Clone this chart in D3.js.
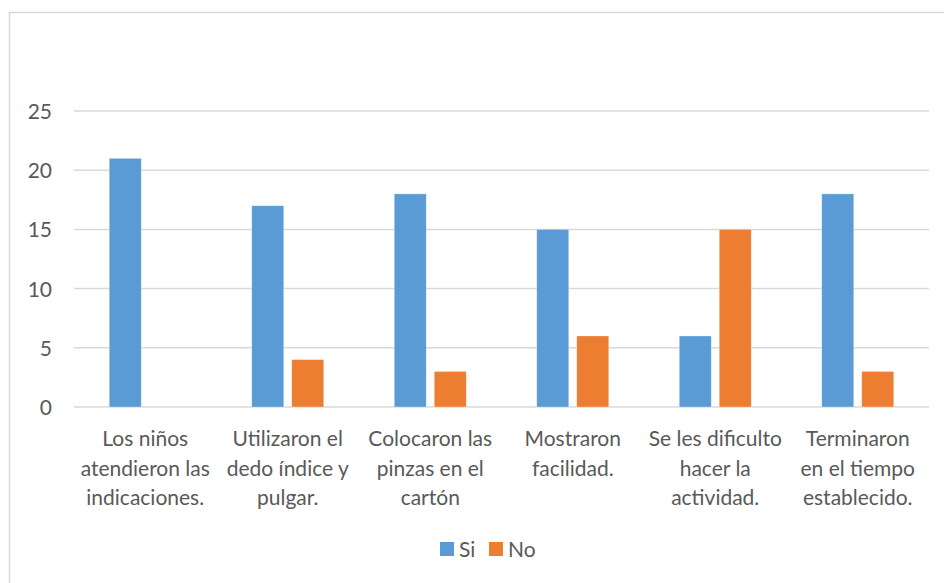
<!DOCTYPE html>
<html>
<head>
<meta charset="utf-8">
<style>
    body { margin: 0; background: #fff; }
    svg { display: block; }
    text { font-family: Lato, "Open Sans", sans-serif; fill: #595959; }
</style>
</head>
<body>
<script src="https://cdnjs.cloudflare.com/ajax/libs/d3/7.8.5/d3.min.js"></script>
<script>

    var categories = [
        ["Los niños", "atendieron las", "indicaciones."],
        ["Utilizaron el", "dedo índice y", "pulgar."],
        ["Colocaron las", "pinzas en el", "cartón"],
        ["Mostraron", "facilidad."],
        ["Se les dificulto", "hacer la", "actividad."],
        ["Terminaron", "en el tiempo", "establecido."]
    ];
    var series = ["Si", "No"];
    var siValues = [21, 17, 18, 15, 6, 18];
    var noValues = [0, 4, 3, 6, 15, 3];
    var yTicks = [0, 5, 10, 15, 20, 25];
    var colors = ["#5B9BD5", "#ED7D31"];

    var width = 944, height = 583;
    var plotLeft = 74, plotRight = 929, plotTop = 111, plotBottom = 407;
    var fontSize = "21px";

    var svg = d3.select("body").append("svg")
        .attr("width", width)
        .attr("height", height);

    // chart frame
    svg.append("rect")
        .attr("x", 9.5).attr("y", 12.5)
        .attr("width", 960).attr("height", 600)
        .attr("fill", "none")
        .attr("stroke", "#d9d9d9")
        .attr("stroke-width", 1.5);

    var x0 = d3.scaleBand()
        .domain(d3.range(categories.length))
        .range([plotLeft, plotRight]);

    var x1 = d3.scaleBand()
        .domain(series)
        .range([0, 72])
        .paddingInner(0.2);

    var y = d3.scaleLinear()
        .domain([0, 25])
        .range([plotBottom, plotTop]);

    // gridlines
    svg.append("g")
        .selectAll("line")
        .data(yTicks)
        .enter().append("line")
        .attr("x1", plotLeft).attr("x2", plotRight)
        .attr("y1", function(d) { return y(d); })
        .attr("y2", function(d) { return y(d); })
        .attr("stroke", "#d9d9d9")
        .attr("stroke-width", 1.5);

    var yAxis = svg.append("g")
        .attr("transform", "translate(" + (plotLeft - 22) + ",0)")
        .call(d3.axisLeft(y).tickValues(yTicks).tickSize(0).tickPadding(0));
    yAxis.select(".domain").remove();
    yAxis.attr("font-family", null).attr("font-size", null);
    yAxis.selectAll("text")
        .style("font-size", fontSize)
        .attr("dy", "0.36em");

    var rows = categories.map(function(c, i) {
        return [siValues[i], noValues[i]];
    });

    var groups = svg.append("g")
        .selectAll("g")
        .data(rows)
        .enter().append("g")
        .attr("transform", function(d, i) {
            return "translate(" + (x0(i) + x0.bandwidth() / 2 - 36) + ",0)";
        });

    groups.selectAll("rect")
        .data(function(d) { return d; })
        .enter().append("rect")
        .attr("x", function(d, j) { return x1(series[j]); })
        .attr("width", x1.bandwidth())
        .attr("y", function(d) { return y(d); })
        .attr("height", function(d) { return y(0) - y(d); })
        .attr("fill", function(d, j) { return colors[j]; })
        .attr("stroke", "#fff")
        .attr("stroke-opacity", 0.4)
        .attr("stroke-width", 0.75);

    // category labels
    var labels = svg.append("g")
        .selectAll("text")
        .data(categories)
        .enter().append("text")
        .attr("text-anchor", "middle")
        .style("font-size", fontSize)
        .attr("x", function(d, i) { return x0(i) + x0.bandwidth() / 2; })
        .attr("y", 446);

    labels.selectAll("tspan")
        .data(function(d) { return d; })
        .enter().append("tspan")
        .attr("x", function() { return this.parentNode.getAttribute("x"); })
        .attr("dy", function(d, j) { return j === 0 ? 0 : 29.5; })
        .text(function(d) { return d; });

    // legend
    var legendX = [440, 489];
    var legend = svg.append("g")
        .selectAll("g")
        .data(series)
        .enter().append("g")
        .attr("transform", function(d, i) { return "translate(" + legendX[i] + ",542)"; });

    legend.append("rect")
        .attr("width", 14).attr("height", 14)
        .attr("fill", function(d, i) { return colors[i]; });

    legend.append("text")
        .attr("x", 19).attr("y", 15)
        .style("font-size", fontSize)
        .text(function(d) { return d; });

</script>
</body>
</html>
